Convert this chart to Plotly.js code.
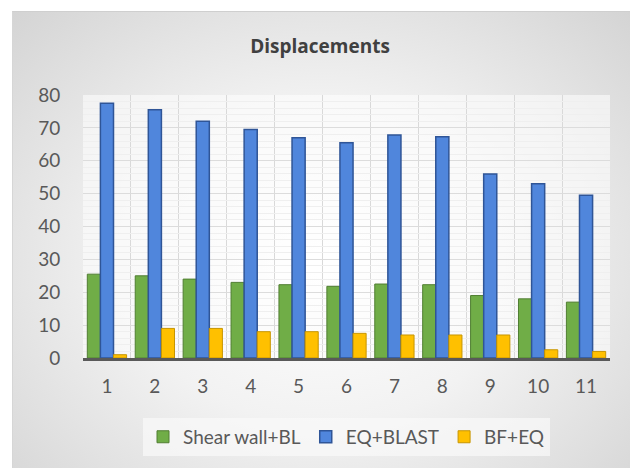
<!DOCTYPE html>
<html><head><meta charset="utf-8">
<script src="https://cdn.plot.ly/plotly-3.0.1.min.js"></script>
<style>
html,body{margin:0;padding:0;background:#fff;}
#frame{position:absolute;left:12px;top:11px;width:618px;height:457px;
background:radial-gradient(ellipse at 50% 55%, #ffffff 0%, #f2f2f2 45%, #d4d4d4 100%);border-top:1px solid #cfcfcf;border-left:1px solid #d6d6d6;}
#chart{position:absolute;left:0;top:0;width:630px;height:468px;}
</style></head><body>
<div id="frame"></div>
<div id="chart"></div>
<script>
const categories = [1,2,3,4,5,6,7,8,9,10,11];
const tickLabels = ['1','2','3','4','5','6','7','8','9','10','11'];
const shearWallBL = [25.5,25,24,23,22.3,21.8,22.5,22.3,19,18,17];
const eqBlast = [77.5,75.5,72,69.5,67,65.5,67.8,67.3,56,53,49.5];
const bfEq = [1,9,9,8,8,7.5,7,7,7,2.5,2];

const traces = [
 {type:'bar', name:'Shear wall+BL', x:categories, y:shearWallBL,
  marker:{color:'#70ad47', line:{color:'#507e32', width:1}}},
 {type:'bar', name:'EQ+BLAST', x:categories, y:eqBlast,
  marker:{color:'#5086dc', line:{color:'#2f5597', width:1.5}}},
 {type:'bar', name:'BF+EQ', x:categories, y:bfEq,
  marker:{color:'#ffc000', line:{color:'#c79500', width:1}}}
];
const layout = {
 width:630, height:468,
 paper_bgcolor:'rgba(0,0,0,0)', plot_bgcolor:'rgba(255,255,255,0.55)',
 margin:{l:83, r:20, t:95, b:110},
 font:{family:'Lato, "Open Sans", sans-serif', color:'#595959'},
 title:{text:'<b>Displacements</b>', x:0.508, xanchor:'center', y:0.9, yanchor:'middle',
   font:{size:19, color:'#404040', family:'"Open Sans", Lato, sans-serif'}},
 barmode:'group', bargap:0.18, bargroupgap:0,
 showlegend:true,
 legend:{orientation:'h', x:0.5, xanchor:'center', y:-0.3, yanchor:'middle',
   bgcolor:'rgba(250,250,250,0.7)', font:{size:19, color:'#595959'},
   itemwidth:30, traceorder:'normal'},
 xaxis:{type:'linear', range:[0.5,11.5], tickvals:categories, ticktext:tickLabels,
   showgrid:false, zeroline:false, showline:true, linecolor:'#595959', linewidth:3,
   ticks:'outside', ticklen:9, tickcolor:'rgba(0,0,0,0)', tickfont:{size:19, color:'#595959'},
   minor:{tick0:0.5, dtick:1, showgrid:true, gridcolor:'#d9d9d9', gridwidth:1}},
 yaxis:{range:[0,80], tickvals:[0,10,20,30,40,50,60,70,80], showgrid:true, gridcolor:'#dcdcdc', zeroline:false,
   showline:false, ticks:'outside', ticklen:18, tickcolor:'rgba(0,0,0,0)',
   tickfont:{size:19, color:'#595959'},
   minor:{dtick:2, showgrid:true, gridcolor:'#efefef', ticks:''}}
};
Plotly.newPlot('chart', traces, layout, {displayModeBar:false, staticPlot:true});
</script>
</body></html>
